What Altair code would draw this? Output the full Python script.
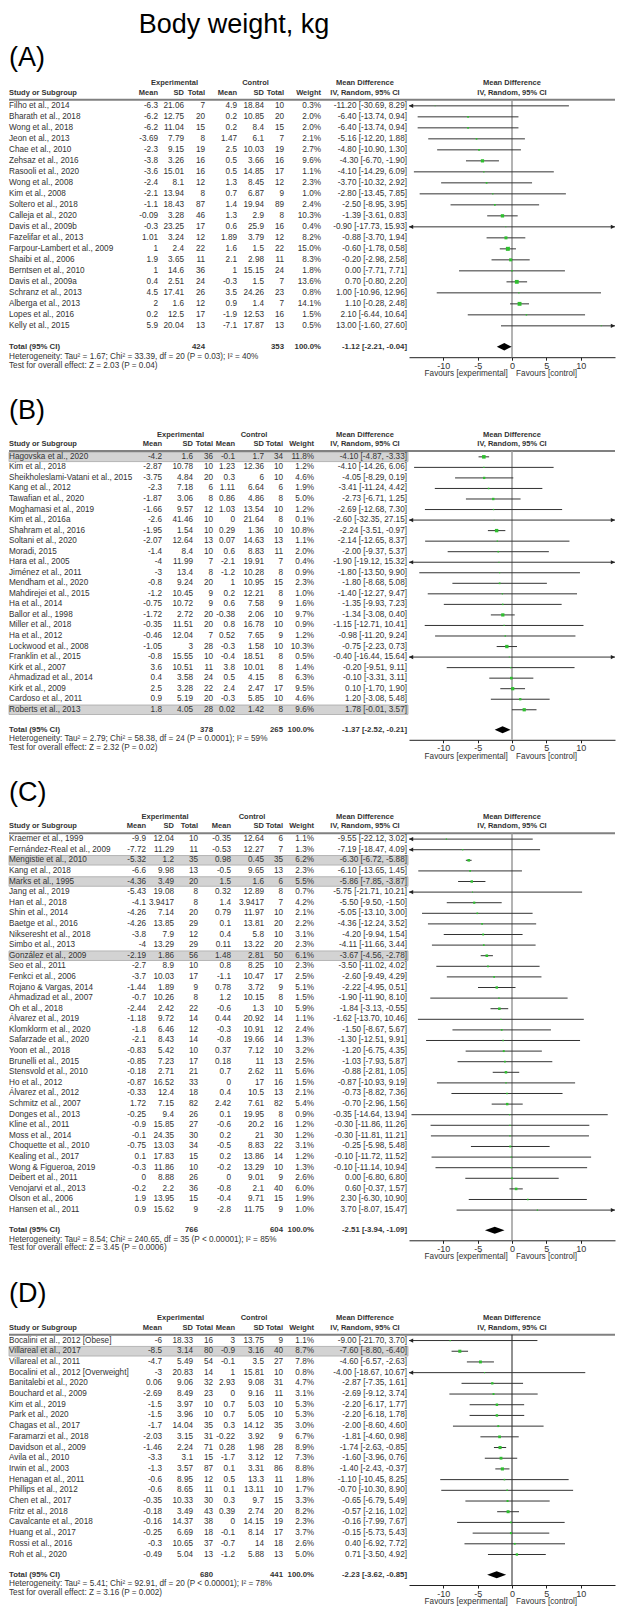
import altair as alt
import pandas as pd

TITLE = "Body weight, kg"

# ---------------- Panel A ----------------
A_STUDY = ["Filho et al., 2014", "Bharath et al., 2018", "Wong et al., 2018", "Jeon et al., 2013",
           "Chae et al., 2010", "Zehsaz et al., 2016", "Rasooli et al., 2020", "Wong et al., 2008",
           "Kim et al., 2008", "Soltero et al., 2018", "Calleja et al., 2020", "Davis et al., 2009b",
           "Fazelifar et al., 2013", "Farpour-Lambert et al., 2009", "Shaibi et al., 2006",
           "Berntsen et al., 2010", "Davis et al., 2009a", "Schranz et al., 2013", "Alberga et al., 2013",
           "Lopes et al., 2016", "Kelly et al., 2015"]
A_EXP_MEAN = [-6.3, -6.2, -6.2, -3.69, -2.3, -3.8, -3.6, -2.4, -2.1, -1.1, -0.09, -0.3, 1.01, 1, 1.9, 1, 0.4, 4.5, 2, 0.2, 5.9]
A_EXP_SD = [21.06, 12.75, 11.04, 7.79, 9.15, 3.26, 15.01, 8.1, 13.94, 18.43, 3.28, 23.25, 3.24, 2.4, 3.65, 14.6, 2.51, 17.41, 1.6, 12.5, 20.04]
A_EXP_N = [7, 20, 15, 8, 19, 16, 16, 12, 8, 87, 46, 17, 12, 22, 11, 36, 24, 26, 12, 17, 13]
A_CTL_MEAN = [4.9, 0.2, 0.2, 1.47, 2.5, 0.5, 0.5, 1.3, 0.7, 1.4, 1.3, 0.6, 1.89, 1.6, 2.1, 1, -0.3, 3.5, 0.9, -1.9, -7.1]
A_CTL_SD = [18.84, 10.85, 8.4, 6.1, 10.03, 3.66, 14.85, 8.45, 6.87, 19.94, 2.9, 25.9, 3.79, 1.5, 2.98, 15.15, 1.5, 24.26, 1.4, 12.53, 17.87]
A_CTL_N = [10, 20, 15, 7, 19, 16, 17, 12, 9, 89, 8, 16, 12, 22, 11, 24, 7, 23, 7, 16, 13]
A_WEIGHT = [0.3, 2.0, 2.0, 2.1, 2.7, 9.6, 1.1, 2.3, 1.0, 2.4, 10.3, 0.4, 8.2, 15.0, 8.3, 1.8, 13.6, 0.8, 14.1, 1.5, 0.5]
A_MD = [-11.20, -6.40, -6.40, -5.16, -4.80, -4.30, -4.10, -3.70, -2.80, -2.50, -1.39, -0.90, -0.88, -0.60, -0.20, 0.00, 0.70, 1.00, 1.10, 2.10, 13.00]
A_LO = [-30.69, -13.74, -13.74, -12.20, -10.90, -6.70, -14.29, -10.32, -13.45, -8.95, -3.61, -17.73, -3.70, -1.78, -2.98, -7.71, -0.80, -10.96, -0.28, -6.44, -1.60]
A_HI = [8.29, 0.94, 0.94, 1.88, 1.30, -1.90, 6.09, 2.92, 7.85, 3.95, 0.83, 15.93, 1.94, 0.58, 2.58, 7.71, 2.20, 12.96, 2.48, 10.64, 27.60]
A_HL = []
A_TOTAL = [424, 353]
A_TOTAL_CI = [-1.12, -2.21, -0.04]
A_HET = "Heterogeneity: Tau² = 1.67; Chi² = 33.39, df = 20 (P = 0.03); I² = 40%"
A_TEST = "Test for overall effect: Z = 2.03 (P = 0.04)"

# ---------------- Panel B ----------------
B_STUDY = ["Hagovska et al., 2020", "Kim et al., 2018", "Sheikholeslami-Vatani et al., 2015", "Kang et al., 2012",
           "Tawafian et al., 2020", "Moghamasi et al., 2019", "Kim et al., 2016a", "Shahram et al., 2016",
           "Soltani et al., 2020", "Moradi, 2015", "Hara et al., 2005", "Jiménez et al., 2011",
           "Mendham et al., 2020", "Mahdirejei et al., 2015", "Ha et al., 2014", "Ballor et al., 1998",
           "Miller et al., 2018", "Ha et al., 2012", "Lockwood et al., 2008", "Franklin et al., 2015",
           "Kirk et al., 2007", "Ahmadizad et al., 2014", "Kirk et al., 2009", "Cardoso et al., 2011",
           "Roberts et al., 2013"]
B_EXP_MEAN = [-4.2, -2.87, -3.75, -2.3, -1.87, -1.66, -2.6, -1.95, -2.07, -1.4, -4, -3, -0.8, -1.2, -0.75, -1.72, -0.35, -0.46, -1.05, -0.8, 3.6, 0.4, 2.5, 0.9, 1.8]
B_EXP_SD = [1.6, 10.78, 4.84, 7.18, 3.06, 9.57, 41.46, 1.54, 12.64, 8.4, 11.99, 13.4, 9.24, 10.45, 10.72, 2.72, 11.51, 12.04, 3, 15.55, 10.51, 3.58, 3.28, 5.19, 4.05]
B_EXP_N = [36, 10, 20, 6, 8, 12, 10, 10, 13, 10, 7, 8, 20, 9, 9, 20, 20, 7, 28, 10, 11, 24, 22, 20, 28]
B_CTL_MEAN = [-0.1, 1.23, 0.3, 1.11, 0.86, 1.03, 0, 0.29, 0.07, 0.6, -2.1, -1.2, 1, 0.2, 0.6, -0.38, 0.8, 0.52, -0.3, -0.4, 3.8, 0.5, 2.4, -0.3, 0.02]
B_CTL_SD = [1.7, 12.36, 6, 6.64, 4.86, 13.54, 21.64, 1.36, 14.63, 8.83, 19.91, 10.28, 10.95, 12.21, 7.58, 2.06, 16.78, 7.65, 1.58, 18.51, 10.01, 4.15, 2.47, 5.85, 1.42]
B_CTL_N = [34, 10, 10, 6, 8, 10, 8, 10, 13, 11, 7, 8, 15, 8, 9, 10, 10, 9, 10, 8, 8, 8, 17, 10, 8]
B_WEIGHT = [11.8, 1.2, 4.6, 1.9, 5.0, 1.2, 0.1, 10.8, 1.1, 2.0, 0.4, 0.9, 2.3, 1.0, 1.6, 9.7, 0.9, 1.2, 10.3, 0.5, 1.4, 6.3, 9.5, 4.6, 9.6]
B_MD = [-4.10, -4.10, -4.05, -3.41, -2.73, -2.69, -2.60, -2.24, -2.14, -2.00, -1.90, -1.80, -1.80, -1.40, -1.35, -1.34, -1.15, -0.98, -0.75, -0.40, -0.20, -0.10, 0.10, 1.20, 1.78]
B_LO = [-4.87, -14.26, -8.29, -11.24, -6.71, -12.68, -32.35, -3.51, -12.65, -9.37, -19.12, -13.50, -8.68, -12.27, -9.93, -3.08, -12.71, -11.20, -2.23, -16.44, -9.51, -3.31, -1.70, -3.08, -0.01]
B_HI = [-3.33, 6.06, 0.19, 4.42, 1.25, 7.30, 27.15, -0.97, 8.37, 5.37, 15.32, 9.90, 5.08, 9.47, 7.23, 0.40, 10.41, 9.24, 0.73, 15.64, 9.11, 3.11, 1.90, 5.48, 3.57]
B_HL = [0, 24]
B_TOTAL = [378, 265]
B_TOTAL_CI = [-1.37, -2.52, -0.21]
B_HET = "Heterogeneity: Tau² = 2.79; Chi² = 58.38, df = 24 (P = 0.0001); I² = 59%"
B_TEST = "Test for overall effect: Z = 2.32 (P = 0.02)"

# ---------------- Panel C ----------------
C_STUDY = ["Kraemer et al., 1999", "Fernández-Real et al., 2009", "Mengistie et al., 2010", "Kang et al., 2018",
           "Marks et al., 1995", "Jang et al., 2019", "Han et al., 2018", "Shin et al., 2014",
           "Baetge et al., 2016", "Nikseresht et al., 2018", "Simbo et al., 2013", "González et al., 2009",
           "Seo et al., 2011", "Fenkci et al., 2006", "Rojano & Vargas, 2014", "Ahmadizad et al., 2007",
           "Oh et al., 2018", "Álvarez et al., 2019", "Klomklorm et al., 2020", "Safarzade et al., 2020",
           "Yoon et al., 2018", "Brunelli et al., 2015", "Stensvold et al., 2010", "Ho et al., 2012",
           "Álvarez et al., 2012", "Schmitz et al., 2007", "Donges et al., 2013", "Kline et al., 2011",
           "Moss et al., 2014", "Choquette et al., 2010", "Kealing et al., 2017", "Wong & Figueroa, 2019",
           "Deibert et al., 2011", "Venojarvi et al., 2013", "Olson et al., 2006", "Hansen et al., 2011"]
C_EXP_MEAN = [-9.9, -7.72, -5.32, -6.6, -4.36, -5.43, -4.1, -4.26, -4.26, -3.8, -4, -2.19, -2.7, -3.7, -1.44, -0.7, -2.44, -1.18, -1.8, -2.1, -0.83, -0.85, -0.18, -0.87, -0.33, 1.72, -0.25, -0.9, -0.1, -0.75, 0.1, -0.3, 0, -0.2, 1.9, 0.9]
C_EXP_SD = [12.04, 11.29, 1.2, 9.98, 3.49, 19.08, 3.9417, 7.14, 13.85, 7.9, 13.29, 1.86, 8.9, 10.03, 1.89, 10.26, 2.42, 9.72, 6.46, 8.43, 5.42, 7.23, 2.71, 16.52, 12.4, 7.15, 9.4, 15.85, 24.35, 13.03, 17.83, 11.86, 8.88, 2.2, 13.95, 15.62]
C_EXP_N = [10, 11, 35, 13, 20, 8, 8, 20, 29, 12, 29, 56, 10, 17, 9, 8, 22, 14, 12, 14, 10, 17, 21, 33, 18, 82, 26, 27, 30, 34, 15, 10, 26, 36, 15, 9]
C_CTL_MEAN = [-0.35, -0.53, 0.98, -0.5, 1.5, 0.32, 1.4, 0.79, 0.1, 0.4, 0.11, 1.48, 0.8, -1.1, 0.78, 1.2, -0.6, 0.44, -0.3, -0.8, 0.37, 0.18, 0.7, 0, 0.4, 2.42, 0.1, -0.6, 0.2, -0.5, 0.2, -0.2, 0, -0.8, -0.4, -2.8]
C_CTL_SD = [12.64, 12.27, 0.45, 9.65, 1.6, 12.89, 3.9417, 11.97, 13.81, 5.8, 13.22, 2.81, 8.25, 10.47, 3.72, 10.15, 1.3, 20.92, 10.91, 19.66, 7.12, 11, 2.62, 17, 10.5, 7.61, 19.95, 20.2, 21, 8.83, 13.86, 13.29, 9.01, 2.1, 9.71, 11.75]
C_CTL_N = [6, 7, 35, 13, 6, 8, 7, 10, 20, 10, 20, 50, 10, 17, 9, 8, 10, 14, 12, 14, 10, 13, 11, 16, 13, 82, 8, 16, 30, 22, 14, 10, 9, 40, 15, 9]
C_WEIGHT = [1.1, 1.3, 6.2, 2.3, 5.5, 0.7, 4.2, 2.1, 2.2, 3.1, 2.3, 6.1, 2.3, 2.5, 5.1, 1.5, 5.9, 1.1, 2.4, 1.3, 3.2, 2.5, 5.6, 1.5, 2.1, 5.4, 0.9, 1.2, 1.2, 3.1, 1.2, 1.3, 2.6, 6.0, 1.9, 1.0]
C_MD = [-9.55, -7.19, -6.30, -6.10, -5.86, -5.75, -5.50, -5.05, -4.36, -4.20, -4.11, -3.67, -3.50, -2.60, -2.22, -1.90, -1.84, -1.62, -1.50, -1.30, -1.20, -1.03, -0.88, -0.87, -0.73, -0.70, -0.35, -0.30, -0.30, -0.25, -0.10, -0.10, 0.00, 0.60, 2.30, 3.70]
C_LO = [-22.12, -18.47, -6.72, -13.65, -7.85, -21.71, -9.50, -13.10, -12.24, -9.94, -11.66, -4.56, -11.02, -9.49, -4.95, -11.90, -3.13, -13.70, -8.67, -12.51, -6.75, -7.93, -2.81, -10.93, -8.82, -2.96, -14.64, -11.86, -11.81, -5.98, -11.72, -11.14, -6.80, -0.37, -6.30, -8.07]
C_HI = [3.02, 4.09, -5.88, 1.45, -3.87, 10.21, -1.50, 3.00, 3.52, 1.54, 3.44, -2.78, 4.02, 4.29, 0.51, 8.10, -0.55, 10.46, 5.67, 9.91, 4.35, 5.87, 1.05, 9.19, 7.36, 1.56, 13.94, 11.26, 11.21, 5.48, 11.52, 10.94, 6.80, 1.57, 10.90, 15.47]
C_HL = [2, 4, 11]
C_TOTAL = [766, 604]
C_TOTAL_CI = [-2.51, -3.94, -1.09]
C_HET = "Heterogeneity: Tau² = 8.54; Chi² = 240.65, df = 35 (P < 0.00001); I² = 85%"
C_TEST = "Test for overall effect: Z = 3.45 (P = 0.0006)"

# ---------------- Panel D ----------------
D_STUDY = ["Bocalini et al., 2012 [Obese]", "Villareal et al., 2017", "Villareal et al., 2011",
           "Bocalini et al., 2012 [Overweight]", "Banitalebi et al., 2020", "Bouchard et al., 2009",
           "Kim et al., 2019", "Park et al., 2020", "Chagas et al., 2017", "Faramarzi et al., 2018",
           "Davidson et al., 2009", "Avila et al., 2010", "Irwin et al., 2003", "Henagan et al., 2011",
           "Phillips et al., 2012", "Chen et al., 2017", "Fritz et al., 2018", "Cavalcante et al., 2018",
           "Huang et al., 2017", "Rossi et al., 2016", "Roh et al., 2020"]
D_EXP_MEAN = [-6, -8.5, -4.7, -3, 0.06, -2.69, -1.5, -1.5, -1.7, -2.03, -1.46, -3.3, -1.3, -0.6, -0.6, -0.35, -0.18, -0.16, -0.25, -0.3, -0.49]
D_EXP_SD = [18.33, 3.14, 5.49, 20.83, 9.06, 8.49, 3.97, 3.96, 14.04, 3.15, 2.24, 3.1, 3.57, 8.95, 8.65, 10.33, 3.49, 14.37, 6.69, 10.65, 5.04]
D_EXP_N = [16, 80, 54, 14, 32, 23, 10, 10, 35, 31, 71, 15, 87, 12, 11, 30, 43, 38, 18, 37, 13]
D_CTL_MEAN = [3, -0.9, -0.1, 1, 2.93, 0, 0.7, 0.7, 0.3, -0.22, 0.28, -1.7, 0.1, 0.5, 0.1, 0.3, 0.39, 0, -0.1, -0.7, -1.2]
D_CTL_SD = [13.75, 3.16, 3.5, 15.81, 9.08, 9.16, 5.03, 5.05, 14.12, 3.92, 1.98, 3.12, 3.31, 13.3, 13.11, 9.7, 2.74, 14.15, 8.14, 14, 5.88]
D_CTL_N = [9, 40, 27, 10, 31, 11, 10, 10, 35, 9, 28, 12, 86, 11, 10, 15, 20, 19, 17, 18, 13]
D_WEIGHT = [1.1, 8.7, 7.8, 0.8, 4.7, 3.1, 5.3, 5.3, 3.0, 6.7, 8.9, 7.3, 8.8, 1.8, 1.7, 3.3, 8.2, 2.3, 3.7, 2.6, 5.0]
D_MD = [-9.00, -7.60, -4.60, -4.00, -2.87, -2.69, -2.20, -2.20, -2.00, -1.81, -1.74, -1.60, -1.40, -1.10, -0.70, -0.65, -0.57, -0.16, -0.15, 0.40, 0.71]
D_LO = [-21.70, -8.80, -6.57, -18.67, -7.35, -9.12, -6.17, -6.18, -8.60, -4.60, -2.63, -3.96, -2.43, -10.45, -10.30, -6.79, -2.16, -7.99, -5.73, -6.92, -3.50]
D_HI = [3.70, -6.40, -2.63, 10.67, 1.61, 3.74, 1.77, 1.78, 4.60, 0.98, -0.85, 0.76, -0.37, 8.25, 8.90, 5.49, 1.02, 7.67, 5.43, 7.72, 4.92]
D_HL = [1]
D_TOTAL = [680, 441]
D_TOTAL_CI = [-2.23, -3.62, -0.85]
D_HET = "Heterogeneity: Tau² = 5.41; Chi² = 92.91, df = 20 (P < 0.00001); I² = 78%"
D_TEST = "Test for overall effect: Z = 3.16 (P = 0.002)"

# ---------------- styling ----------------
FONT = "Liberation Sans"
FS = 8.2
HFS = 7.5
TFS = 7.8
TXT = "#333333"
GREEN = "#2fbf2f"
W = 606
X0, X1 = 400, 606
ONE = pd.DataFrame({"k": [0]})


def fmt(v):
    return f"{v:g}"


def make_panel(letter, study, em, esd, en, cm, csd, cn, wt, md, lo, hi, hl,
               tot, tot_ci, het, test, cols, s, zero_color, zero_width, title=None):
    n = len(study)
    top = -4.35
    total_row = n - 1 + 1.9
    axis_row = total_row + 0.95
    H = round((axis_row - top) * s, 1)
    YS = alt.Scale(domain=[top, axis_row], range=[0, H], nice=False, zero=False)
    XS = alt.Scale(domain=[-15, 15], range=[X0, X1], clamp=True, nice=False, zero=False)
    XA = alt.Axis(values=[-10, -5, 0, 5, 10], title=None, grid=False, tickSize=3,
                  tickColor="#222222", domainColor="#222222", labelFontSize=9, labelFont=FONT,
                  labelColor=TXT, labelPadding=1, labelFlush=False,
                  labelExpr="'' + datum.value")

    df = pd.DataFrame({
        "row": list(range(n)),
        "study": study,
        "em": [fmt(v) for v in em],
        "esd": [fmt(v) for v in esd],
        "en": [str(v) for v in en],
        "cm": [fmt(v) for v in cm],
        "csd": [fmt(v) for v in csd],
        "cn": [str(v) for v in cn],
        "wtxt": [f"{v:.1f}%" for v in wt],
        "ci": [f"{m:.2f} [{l:.2f}, {h:.2f}]" for m, l, h in zip(md, lo, hi)],
        "md": md, "lo": lo, "hi": hi, "wt": wt,
    })

    def Yf(field):
        return alt.Y(f"{field}:Q", scale=YS, axis=None)

    def Yd(v):
        return alt.Y(datum=v, scale=YS, axis=None)

    def tcol(field, px, align="right"):
        return alt.Chart(df).mark_text(align=align, baseline="middle", font=FONT, fontSize=FS,
                                       color=TXT).encode(x=alt.value(px), y=Yf("row"),
                                                         text=f"{field}:N")

    def lab(txt, px, row, align="right", bold=False, size=FS, color=TXT):
        return alt.Chart(ONE).mark_text(align=align, baseline="middle", font=FONT, fontSize=size,
                                        color=color, fontWeight="bold" if bold else "normal").encode(
            x=alt.value(px), y=Yd(row), text=alt.value(txt))

    def labx(txt, xv, row, align="center", bold=False, size=FS):
        return alt.Chart(ONE).mark_text(align=align, baseline="middle", font=FONT, fontSize=size,
                                        color=TXT, fontWeight="bold" if bold else "normal").encode(
            x=alt.X(datum=xv, scale=XS, axis=XA), y=Yd(row), text=alt.value(txt))

    layers = []
    # highlighted rows
    if hl:
        hdf = pd.DataFrame({"y0": [i - 0.45 for i in hl], "y1": [i + 0.45 for i in hl]})
        layers.append(alt.Chart(hdf).mark_rect(fill="#d3d3d3", stroke="#a8a8a8", strokeWidth=0.8).encode(
            x=alt.value(0), x2=alt.value(399), y=Yf("y0"), y2=alt.Y2("y1:Q")))
    # header rule
    rule_row = -0.55
    layers.append(alt.Chart(ONE).mark_rule(color="#808080", strokeWidth=2).encode(
        x=alt.value(0), x2=alt.value(W), y=Yd(rule_row)))
    # zero line
    layers.append(alt.Chart(ONE).mark_rule(color=zero_color, strokeWidth=zero_width).encode(
        x=alt.X(datum=0, scale=XS, axis=XA), y=Yd(rule_row), y2=alt.Y2(datum=axis_row)))
    # CI lines
    layers.append(alt.Chart(df).mark_rule(color="#333333", strokeWidth=1).encode(
        x=alt.X("lo:Q", scale=XS, axis=XA), x2=alt.X2("hi:Q"), y=Yf("row")))
    # arrows for CIs beyond the axis
    ldf = df[df["lo"] < -15]
    rdf = df[df["hi"] > 15]
    if len(ldf):
        layers.append(alt.Chart(ldf).mark_point(shape="M0,0L1,-0.5L1,0.5Z", filled=True, size=70,
                                                color="#222222", opacity=1).encode(
            x=alt.X("lo:Q", scale=XS, axis=XA), y=Yf("row")))
    if len(rdf):
        layers.append(alt.Chart(rdf).mark_point(shape="M0,0L-1,-0.5L-1,0.5Z", filled=True, size=70,
                                                color="#222222", opacity=1).encode(
            x=alt.X("hi:Q", scale=XS, axis=XA), y=Yf("row")))
    # point estimates
    layers.append(alt.Chart(df).mark_square(color=GREEN, opacity=1).encode(
        x=alt.X("md:Q", scale=XS, axis=XA), y=Yf("row"),
        size=alt.Size("wt:Q", scale=alt.Scale(domain=[0, 15], range=[0.5, 16]), legend=None)))
    # total diamond
    T = total_row
    ddf = pd.DataFrame({"x": [tot_ci[1], tot_ci[0], tot_ci[2]],
                        "y0": [T, T - 0.33, T], "y1": [T, T + 0.33, T]})
    layers.append(alt.Chart(ddf).mark_area(color="black", orient="vertical", opacity=1).encode(
        x=alt.X("x:Q", scale=XS, axis=XA), y=Yf("y0"), y2=alt.Y2("y1:Q")))

    # table columns
    layers.append(tcol("study", 0, "left"))
    for f in ["em", "esd", "en", "cm", "csd", "cn"]:
        layers.append(tcol(f, cols[f]))
    layers.append(tcol("wtxt", cols["w"]))
    layers.append(tcol("ci", cols["ci"]))

    # headers
    h1, h2 = -2.1, -1.2
    exp_c = (cols["em"] + cols["en"]) / 2 - 7
    ctl_c = (cols["cm"] + cols["cn"]) / 2 - 5
    md_c = cols["ci"] - 42
    layers += [
        lab("Experimental", exp_c, h1, "center", True, HFS),
        lab("Control", ctl_c, h1, "center", True, HFS),
        lab("Mean Difference", md_c, h1, "center", True, HFS),
        labx("Mean Difference", 0, h1, "center", True, HFS),
        lab("Study or Subgroup", 0, h2, "left", True, HFS),
        lab("Mean", cols["em"], h2, "right", True, HFS),
        lab("SD", cols["esd"], h2, "right", True, HFS),
        lab("Total", cols["en"], h2, "right", True, HFS),
        lab("Mean", cols["cm"], h2, "right", True, HFS),
        lab("SD", cols["csd"], h2, "right", True, HFS),
        lab("Total", cols["cn"], h2, "right", True, HFS),
        lab("Weight", cols["w"], h2, "right", True, HFS),
        lab("IV, Random, 95% CI", md_c, h2, "center", True, HFS),
        labx("IV, Random, 95% CI", 0, h2, "center", True, HFS),
    ]
    # total row and footers
    layers += [
        lab("Total (95% CI)", 0, T, "left", True, TFS),
        lab(str(tot[0]), cols["en"], T, "right", True, TFS),
        lab(str(tot[1]), cols["cn"], T, "right", True, TFS),
        lab("100.0%", cols["w"], T, "right", True, TFS),
        lab(f"{tot_ci[0]:.2f} [{tot_ci[1]:.2f}, {tot_ci[2]:.2f}]", cols["ci"], T, "right", True, TFS),
        lab(het, 0, T + 0.9, "left"),
        lab(test, 0, T + 1.72, "left"),
        labx("Favours [experimental]", -0.6, axis_row + 17 / s, "right"),
        labx("Favours [control]", 0.6, axis_row + 17 / s, "left"),
        lab(f"({letter})", 0, top, "left", False, 27, "black"),
    ]
    if title:
        layers.append(lab(title, 225, top - 33 / s, "center", False, 27, "black"))

    return alt.layer(*layers).properties(width=W, height=H)


COLS_A = dict(em=149, esd=175, en=196, cm=228, csd=255, cn=275, w=312, ci=398)
COLS_B = dict(em=153, esd=184, en=204, cm=226, csd=255, cn=274, w=305, ci=398)
COLS_C = dict(em=137, esd=165, en=189, cm=222, csd=255, cn=274, w=305, ci=398)
COLS_D = dict(em=153, esd=184, en=204, cm=226, csd=255, cn=274, w=305, ci=398)

pA = make_panel("A", A_STUDY, A_EXP_MEAN, A_EXP_SD, A_EXP_N, A_CTL_MEAN, A_CTL_SD, A_CTL_N, A_WEIGHT,
                A_MD, A_LO, A_HI, A_HL, A_TOTAL, A_TOTAL_CI, A_HET, A_TEST, COLS_A, 11.0, "#9a9a9a", 1.5,
                title=TITLE)
pB = make_panel("B", B_STUDY, B_EXP_MEAN, B_EXP_SD, B_EXP_N, B_CTL_MEAN, B_CTL_SD, B_CTL_N, B_WEIGHT,
                B_MD, B_LO, B_HI, B_HL, B_TOTAL, B_TOTAL_CI, B_HET, B_TEST, COLS_B, 10.54, "#9a9a9a", 1.5)
pC = make_panel("C", C_STUDY, C_EXP_MEAN, C_EXP_SD, C_EXP_N, C_CTL_MEAN, C_CTL_SD, C_CTL_N, C_WEIGHT,
                C_MD, C_LO, C_HI, C_HL, C_TOTAL, C_TOTAL_CI, C_HET, C_TEST, COLS_C, 10.6, "#9a9a9a", 1.5)
pD = make_panel("D", D_STUDY, D_EXP_MEAN, D_EXP_SD, D_EXP_N, D_CTL_MEAN, D_CTL_SD, D_CTL_N, D_WEIGHT,
                D_MD, D_LO, D_HI, D_HL, D_TOTAL, D_TOTAL_CI, D_HET, D_TEST, COLS_D, 10.7, "#222222", 1)

chart = alt.vconcat(pA, pB, pC, pD, spacing=53, bounds="flush").properties(
    padding={"top": 3, "left": 0, "right": 0, "bottom": 0}
).configure_view(stroke=None)

chart.save("out.html", embed_options={"renderer": "svg", "actions": False})
